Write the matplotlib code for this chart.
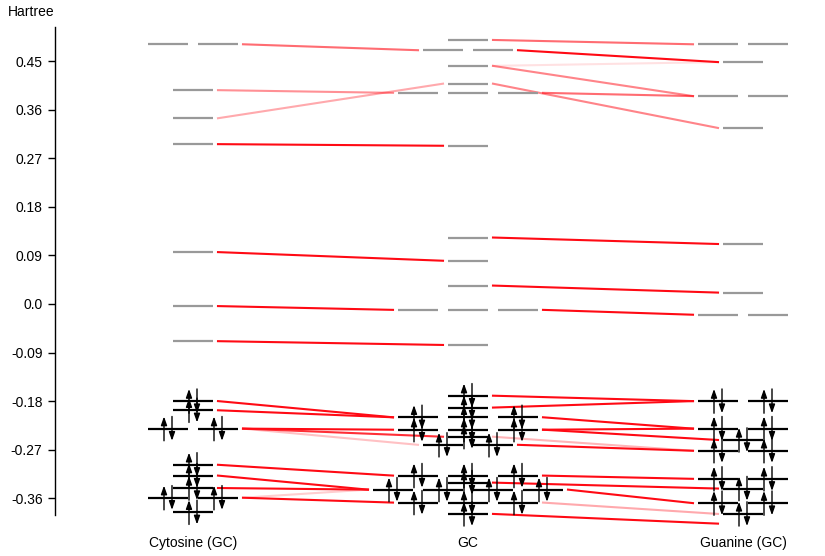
import numpy as np
import matplotlib as mpl
import matplotlib.pyplot as plt

mpl.rcParams["font.family"] = ["Liberation Sans", "DejaVu Sans"]
mpl.rcParams["font.size"] = 10

# column names (x tick labels)
columns = ["Cytosine (GC)", "GC", "Guanine (GC)"]

# orbital energies (Hartree) and how many near-degenerate levels sit side by side
cyt_virtual = [0.481, 0.396, 0.344, 0.296, 0.096, -0.004, -0.069]
cyt_virtual_deg = [2, 1, 1, 1, 1, 1, 1]
cyt_occ = [-0.180, -0.197, -0.231, -0.298, -0.318, -0.341, -0.359, -0.386]
cyt_occ_deg = [1, 1, 2, 1, 1, 1, 2, 1]

gc_virtual = [0.489, 0.470, 0.441, 0.408, 0.391, 0.293, 0.123, 0.080, 0.034, -0.011, -0.076]
gc_virtual_deg = [1, 2, 1, 1, 3, 1, 1, 1, 1, 3, 1]
gc_occ = [-0.170, -0.192, -0.210, -0.233, -0.246, -0.261, -0.318, -0.331, -0.344, -0.368, -0.389]
gc_occ_deg = [1, 1, 3, 3, 1, 2, 3, 1, 4, 3, 1]

gua_virtual = [0.481, 0.448, 0.385, 0.326, 0.111, 0.021, -0.020]
gua_virtual_deg = [2, 1, 2, 1, 1, 1, 2]
gua_occ = [-0.180, -0.231, -0.252, -0.272, -0.324, -0.342, -0.369, -0.389]
gua_occ_deg = [2, 2, 1, 2, 2, 1, 2, 1]

# correlation lines: (fragment energy, complex energy, weight)
cyt_links = [
    (0.481, 0.470, 0.6), (0.396, 0.391, 0.45), (0.344, 0.408, 0.35),
    (0.296, 0.293, 1.0), (0.096, 0.080, 1.0), (-0.004, -0.011, 1.0),
    (-0.069, -0.076, 1.0), (-0.180, -0.210, 1.0), (-0.197, -0.210, 1.0),
    (-0.231, -0.233, 1.0), (-0.231, -0.246, 0.85), (-0.231, -0.261, 0.25),
    (-0.298, -0.318, 1.0), (-0.318, -0.344, 1.0), (-0.341, -0.344, 1.0),
    (-0.359, -0.368, 1.0), (-0.359, -0.344, 0.2),
]
gua_links = [
    (0.481, 0.489, 0.6), (0.448, 0.470, 1.0), (0.448, 0.441, 0.12),
    (0.385, 0.441, 0.5), (0.326, 0.408, 0.5), (0.385, 0.391, 0.6),
    (0.111, 0.123, 1.0), (0.021, 0.034, 1.0), (-0.020, -0.011, 1.0),
    (-0.180, -0.170, 1.0), (-0.180, -0.192, 1.0), (-0.231, -0.210, 1.0),
    (-0.231, -0.233, 1.0), (-0.252, -0.233, 1.0), (-0.272, -0.246, 0.3),
    (-0.272, -0.261, 1.0), (-0.324, -0.318, 1.0), (-0.342, -0.331, 1.0),
    (-0.369, -0.344, 1.0), (-0.389, -0.368, 0.35), (-0.407, -0.389, 1.0),
]

yticks = [0.45, 0.36, 0.27, 0.18, 0.09, 0.0, -0.09, -0.18, -0.27, -0.36]
ytick_labels = ["0.45", "0.36", "0.27", "0.18", "0.09", "0.0", "-0.09", "-0.18", "-0.27", "-0.36"]

PX = 1 / 275  # one pixel in x data units (columns are 275 px apart)
HALF = 20 * PX
SLOT = 50 * PX
GAP = 5 * PX
ARROW = 0.0225  # half length of spin arrows, Hartree


def slots(center, n):
    return [center + (i - (n - 1) / 2) * SLOT for i in range(n)]


def draw_levels(ax, center, energies, degs, color, occupied):
    groups = {}
    for e, n in zip(energies, degs):
        xs = slots(center, n)
        groups[e] = (xs[0] - HALF, xs[-1] + HALF)
        for x in xs:
            ax.plot([x - HALF, x + HALF], [e, e], color=color, lw=1.6,
                    solid_capstyle="butt", zorder=3, clip_on=False)
            if occupied:
                for dx, up in ((-4 * PX, True), (4 * PX, False)):
                    y0, y1 = (e - ARROW, e + ARROW) if up else (e + ARROW, e - ARROW)
                    ax.annotate("", xy=(x + dx, y1), xytext=(x + dx, y0),
                                arrowprops=dict(arrowstyle="-|>,head_length=0.85,head_width=0.3",
                                                color="black", lw=1.0,
                                                mutation_scale=6, shrinkA=0, shrinkB=0),
                                zorder=4, annotation_clip=False)
    return groups


def edge(groups, center, e):
    if e in groups:
        return groups[e]
    return (center - HALF, center + HALF)


fig = plt.figure(figsize=(8.25, 5.56), dpi=100)
ax = fig.add_axes([55 / 825, 41 / 556, 770 / 825, 488 / 556])

cyt_g = draw_levels(ax, 0, cyt_virtual, cyt_virtual_deg, "#999999", False)
cyt_g.update(draw_levels(ax, 0, cyt_occ, cyt_occ_deg, "black", True))
gc_g = draw_levels(ax, 1, gc_virtual, gc_virtual_deg, "#999999", False)
gc_g.update(draw_levels(ax, 1, gc_occ, gc_occ_deg, "black", True))
gua_g = draw_levels(ax, 2, gua_virtual, gua_virtual_deg, "#999999", False)
gua_g.update(draw_levels(ax, 2, gua_occ, gua_occ_deg, "black", True))

for ef, ec, w in cyt_links:
    x0 = edge(cyt_g, 0, ef)[1] + GAP
    x1 = edge(gc_g, 1, ec)[0] - GAP
    ax.plot([x0, x1], [ef, ec], color="#ff0a14", alpha=w, lw=1.5, zorder=2, clip_on=False)

for ef, ec, w in gua_links:
    x0 = edge(gc_g, 1, ec)[1] + GAP
    x1 = edge(gua_g, 2, ef)[0] - GAP
    ax.plot([x0, x1], [ec, ef], color="#ff0a14", alpha=w, lw=1.5, zorder=2, clip_on=False)

ax.set_xlim(-138 * PX, 2 + 82 * PX)
ax.set_ylim(-0.391, 0.513)
ax.set_yticks(yticks, labels=ytick_labels)
ax.set_xticks([0, 1, 2], labels=columns)
ax.tick_params(axis="x", length=0, pad=15)
ax.tick_params(axis="y", length=5, width=1, pad=4)
for side in ("top", "right", "bottom"):
    ax.spines[side].set_visible(False)
ax.spines["left"].set_linewidth(1)

fig.text(8 / 825, 1 - 12 / 556, "Hartree", ha="left", va="center")

fig.savefig("out.png", dpi=100)
